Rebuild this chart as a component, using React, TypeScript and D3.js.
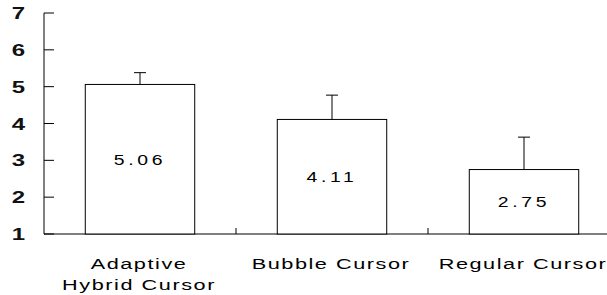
import React from "react";
import * as d3 from "d3";

const categories = ["Adaptive Hybrid Cursor", "Bubble Cursor", "Regular Cursor"];
const labelLines = [["Adaptive", "Hybrid Cursor"], ["Bubble Cursor"], ["Regular Cursor"]];
const means = [5.06, 4.11, 2.75];
const errors = [0.32, 0.66, 0.88];
const yTicks = [1, 2, 3, 4, 5, 6, 7];

const W = 607;
const H = 295;
const left = 44;
const font = "'Liberation Sans', Arial, sans-serif";

const App = () => {
  const x = d3
    .scaleBand<string>()
    .domain(categories)
    .range([left, 620])
    .paddingInner(0.43)
    .paddingOuter(0.215);
  const y = d3.scaleLinear().domain([1, 7]).range([234, 13]);
  const bw = x.bandwidth();
  const step = x.step();
  const gap = (step - bw) / 2;

  return (
    <svg
      width={W}
      height={H}
      style={{ position: "absolute", left: 0, top: 0, background: "#fff" }}
    >
      {/* y axis */}
      <line x1={left} x2={left} y1={y(7)} y2={y(1)} stroke="#000" />
      {yTicks.map((t) => (
        <g key={t}>
          <line x1={left} x2={left + 10} y1={y(t)} y2={y(t)} stroke="#000" />
          <g transform={`translate(25,${y(t) + 6}) scale(1.5,1)`}>
            <text
              textAnchor="end"
              fontFamily={font}
              fontSize={16}
              fontWeight="bold"
              fill="#111"
            >
              {t}
            </text>
          </g>
        </g>
      ))}

      {/* x axis */}
      <line x1={left} x2={W} y1={y(1)} y2={y(1)} stroke="#000" />
      {categories.slice(1).map((c) => (
        <line
          key={c}
          x1={x(c)! - gap}
          x2={x(c)! - gap}
          y1={y(1)}
          y2={y(1) - 6}
          stroke="#000"
        />
      ))}

      {/* bars */}
      {categories.map((c, i) => {
        const x0 = x(c)!;
        const cx = x0 + bw / 2;
        const top = y(means[i]);
        const errTop = y(means[i] + errors[i]);
        return (
          <g key={c}>
            <line x1={cx} x2={cx} y1={top} y2={errTop} stroke="#000" />
            <line x1={cx - 6} x2={cx + 6} y1={errTop} y2={errTop} stroke="#000" />
            <rect
              x={x0}
              y={top}
              width={bw}
              height={y(1) - top}
              fill="#fff"
              stroke="#000"
            />
            <g transform={`translate(${cx},${(top + y(1)) / 2 + 5.5}) scale(1.25,1)`}>
              <text
                textAnchor="middle"
                fontFamily={font}
                fontSize={15.5}
                letterSpacing={3}
                fill="#000"
              >
                {means[i].toFixed(2)}
              </text>
            </g>
            {labelLines[i].map((ln, j) => (
              <g
                key={ln}
                transform={`translate(${cx - 1},${269 + j * 21}) scale(1.4,1)`}
              >
                <text
                  textAnchor="middle"
                  fontFamily={font}
                  fontSize={15.5}
                  letterSpacing={1.1}
                  fill="#000"
                >
                  {ln}
                </text>
              </g>
            ))}
          </g>
        );
      })}
    </svg>
  );
};

export default App;
